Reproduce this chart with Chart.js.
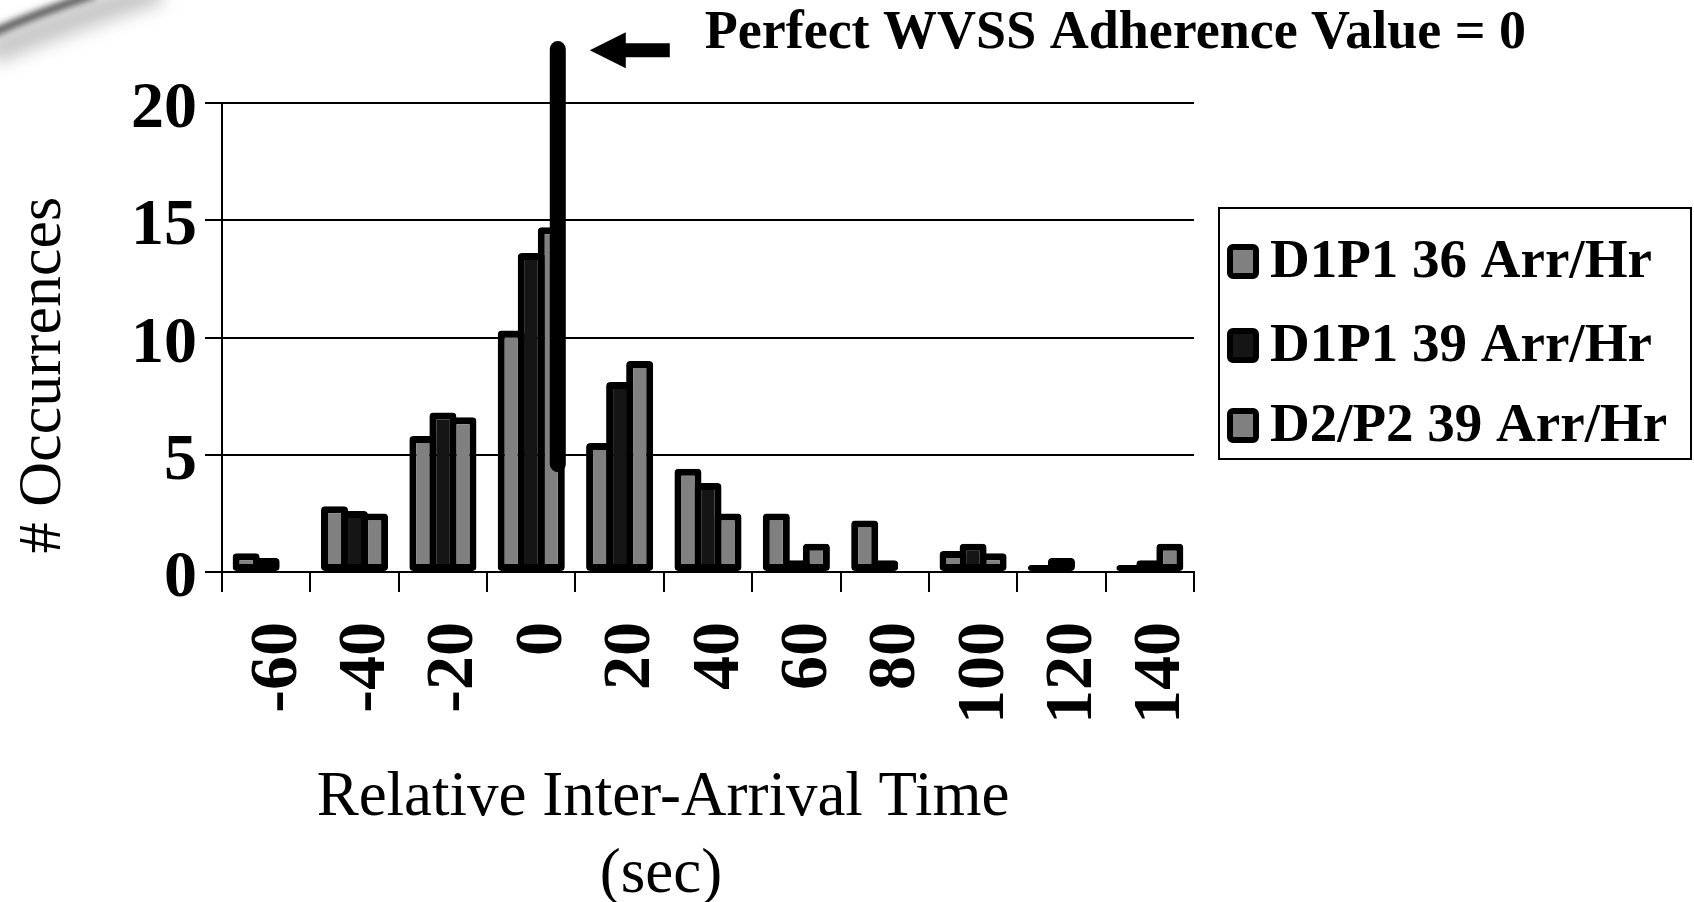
<!DOCTYPE html>
<html>
<head>
<meta charset="utf-8">
<script src="https://cdn.jsdelivr.net/npm/chart.js@4.4.1/dist/chart.umd.min.js"></script>
<style>
  html, body { margin: 0; padding: 0; background: #fff; }
  #wrap { width: 1694px; height: 902px; }
</style>
</head>
<body>
<div id="wrap"><canvas id="chart" width="1694" height="902"></canvas></div>
<script>
// relative inter-arrival time bins (sec)
const categories = ["-60", "-40", "-20", "0", "20", "40", "60", "80", "100", "120", "140"];

// # occurrences per bin
const d1p1Arr36 = [0.8, 2.8, 5.8, 10.3, 5.5, 4.4, 2.5, 2.2, 0.9, 0.3, 0.3];
const d1p1Arr39 = [0.6, 2.6, 6.8, 13.6, 8.1, 3.8, 0.5, 0.5, 1.2, 0.6, 0.5];
const d2p2Arr39 = [null, 2.5, 6.6, 14.7, 9.0, 2.5, 1.2, null, 0.8, null, 1.2];

const seriesNames = ["D1P1 36 Arr/Hr", "D1P1 39 Arr/Hr", "D2/P2 39 Arr/Hr"];
const yTicks = [0, 5, 10, 15, 20];

const SERIF = "'Liberation Serif', 'Times New Roman', serif";
const GRAY = "#808080";
const DARK = "#151515";

const makeSet = (label, data, color) => ({
  label: label,
  data: data,
  backgroundColor: color,
  borderColor: "#000",
  borderWidth: 7,
  borderSkipped: false,
  borderRadius: 4,
  barPercentage: 1.35,
  categoryPercentage: 0.68,
});

// everything Excel drew that Chart.js has no option for
const decorations = {
  id: "decorations",
  beforeDraw: (chart) => {
    const ctx = chart.ctx;
    ctx.save();
    ctx.fillStyle = "#fff";
    ctx.fillRect(0, 0, chart.width, chart.height);
    // page curl shadow, top-left corner
    ctx.filter = "blur(9px)";
    ctx.strokeStyle = "rgba(150,150,150,0.55)";
    ctx.lineWidth = 26;
    ctx.beginPath();
    ctx.moveTo(-10, 52);
    ctx.quadraticCurveTo(60, 22, 160, -10);
    ctx.stroke();
    ctx.filter = "blur(3px)";
    ctx.strokeStyle = "rgba(70,70,70,0.9)";
    ctx.lineWidth = 8;
    ctx.beginPath();
    ctx.moveTo(-10, 34);
    ctx.quadraticCurveTo(35, 14, 95, -6);
    ctx.stroke();
    ctx.restore();
  },
  afterDraw: (chart) => {
    const ctx = chart.ctx;
    const xs = chart.scales.x;
    const ys = chart.scales.y;
    ctx.save();
    ctx.fillStyle = "#000";

    // x tick labels, reading bottom to top
    ctx.font = "bold 68px " + SERIF;
    categories.forEach((label, i) => {
      ctx.save();
      ctx.translate(xs.getPixelForTick(i) + 12, xs.top + 50);
      ctx.rotate(-Math.PI / 2);
      ctx.textAlign = "right";
      ctx.textBaseline = "middle";
      ctx.fillText(label, 0, 0);
      ctx.restore();
    });

    // axis titles
    ctx.font = "63px " + SERIF;
    ctx.textAlign = "center";
    ctx.textBaseline = "alphabetic";
    ctx.fillText("Relative Inter-Arrival Time", 663, 815);
    ctx.fillText("(sec)", 661, 892);

    ctx.save();
    ctx.font = "62px " + SERIF;
    ctx.translate(60, 375);
    ctx.rotate(-Math.PI / 2);
    ctx.fillText("# Occurrences", 0, 0);
    ctx.restore();

    // legend box
    ctx.lineWidth = 2;
    ctx.strokeStyle = "#000";
    ctx.strokeRect(1219, 208, 472, 251);
    const rows = [261, 345, 425];
    ctx.font = "bold 55px " + SERIF;
    ctx.textAlign = "left";
    ctx.textBaseline = "middle";
    chart.data.datasets.forEach((ds, i) => {
      const y = rows[i];
      ctx.beginPath();
      ctx.roundRect(1230, y - 14, 26, 29, 3);
      ctx.fillStyle = ds.backgroundColor;
      ctx.fill();
      ctx.lineWidth = 6;
      ctx.stroke();
      ctx.fillStyle = "#000";
      ctx.fillText(ds.label, 1270, y + 2);
    });

    // perfect adherence marker on the "0" bin
    const x0 = xs.getPixelForValue(3);
    const step = xs.getPixelForValue(4) - x0;
    const lx = x0 + 0.3 * step;
    ctx.lineCap = "round";
    ctx.lineWidth = 16;
    ctx.beginPath();
    ctx.moveTo(lx, ys.getPixelForValue(22.3));
    ctx.lineTo(lx, ys.getPixelForValue(4.6));
    ctx.stroke();

    // arrow + caption
    const ay = ys.getPixelForValue(22.25);
    const tip = lx + 32;
    ctx.beginPath();
    ctx.moveTo(tip, ay);
    ctx.lineTo(tip + 36, ay - 18);
    ctx.lineTo(tip + 36, ay - 7);
    ctx.lineTo(tip + 80, ay - 7);
    ctx.lineTo(tip + 80, ay + 7);
    ctx.lineTo(tip + 36, ay + 7);
    ctx.lineTo(tip + 36, ay + 18);
    ctx.closePath();
    ctx.fill();

    ctx.font = "bold 54px " + SERIF;
    ctx.textAlign = "left";
    ctx.textBaseline = "alphabetic";
    ctx.fillText("Perfect WVSS Adherence Value = 0", lx + 147, 48);
    ctx.restore();
  },
};

new Chart(document.getElementById("chart"), {
  type: "bar",
  data: {
    labels: categories,
    datasets: [
      makeSet(seriesNames[0], d1p1Arr36, GRAY),
      makeSet(seriesNames[1], d1p1Arr39, DARK),
      makeSet(seriesNames[2], d2p2Arr39, GRAY),
    ],
  },
  plugins: [decorations],
  options: {
    responsive: false,
    animation: false,
    devicePixelRatio: 1,
    layout: { padding: { top: 103, right: 500, bottom: 0, left: 0 } },
    plugins: {
      legend: { display: false },
      tooltip: { enabled: false },
    },
    scales: {
      x: {
        grid: {
          offset: true,
          drawOnChartArea: false,
          drawTicks: true,
          tickLength: 20,
          color: "#000",
          lineWidth: 2,
        },
        border: { color: "#000", width: 2 },
        ticks: { display: false },
        afterFit: (scale) => {
          scale.height = 330;
        },
      },
      y: {
        min: 0,
        max: 20,
        afterBuildTicks: (scale) => {
          scale.ticks = yTicks.map((v) => ({ value: v }));
        },
        ticks: {
          color: "#000",
          padding: 8,
          labelOffset: 7,
          font: { family: SERIF, size: 66, weight: "bold" },
        },
        grid: { color: "#000", lineWidth: 2, tickLength: 17 },
        border: { color: "#000", width: 2 },
        afterFit: (scale) => {
          scale.width = 222;
        },
      },
    },
  },
});
</script>
</body>
</html>
